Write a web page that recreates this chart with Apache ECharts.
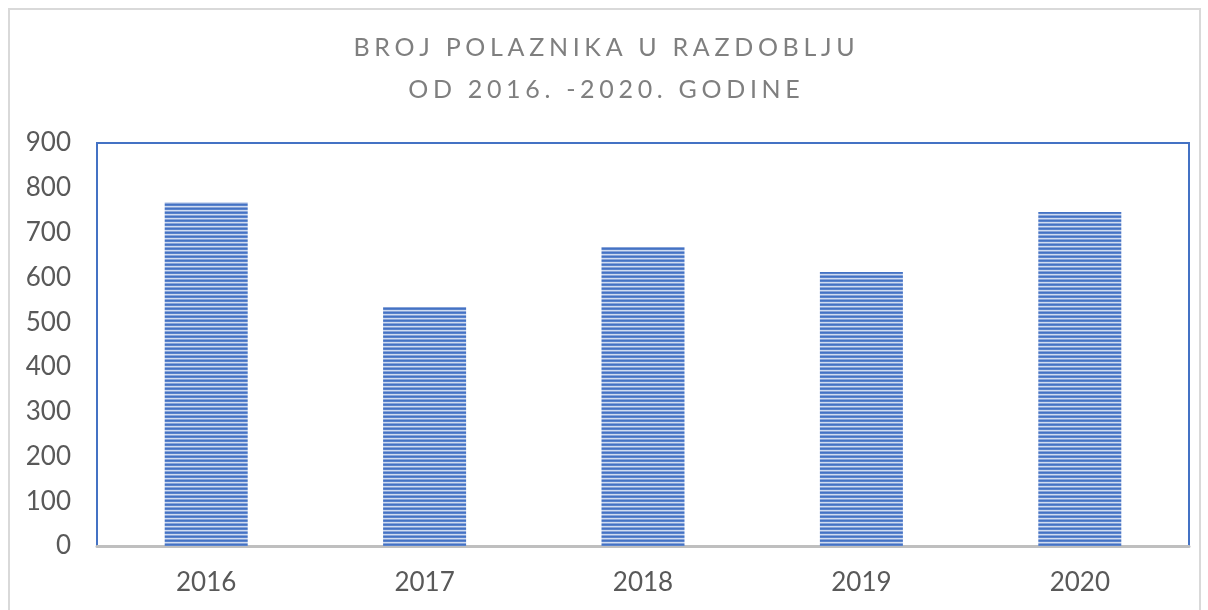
<!DOCTYPE html>
<html>
<head>
<meta charset="utf-8">
<script src="https://cdn.jsdelivr.net/npm/echarts@6/dist/echarts.min.js"></script>
<style>
  html, body { margin: 0; padding: 0; background: #fff; }
  #chart { width: 1208px; height: 610px; }
</style>
</head>
<body>
<div id="chart"></div>
<script>
var years = ['2016', '2017', '2018', '2019', '2020'];
var polaznici = [768, 534, 668, 612, 746];
var yTicks = { min: 0, max: 900, interval: 100 };
var titleLines = ['BROJ POLAZNIKA U RAZDOBLJU', 'OD 2016. -2020. GODINE'];

// razmaknuti naslov (kao u Excelu)
function spaced(s) {
    return s.split('').join('\u2009\u200A');
}

// horizontalne pruge za stupce
var stripe = document.createElement('canvas');
stripe.width = 4;
stripe.height = 4;
var ctx = stripe.getContext('2d');
var rows = ['#4472c4', '#5a83cc', '#d0dcf1', '#87a3d8'];
for (var i = 0; i < rows.length; i++) {
    ctx.fillStyle = rows[i];
    ctx.fillRect(0, i, 4, 1);
}

var dom = document.getElementById('chart');
var myChart = echarts.init(dom);

var option = {
    backgroundColor: '#fff',
    animation: false,
    title: {
        text: spaced(titleLines[0]) + '\n' + spaced(titleLines[1]),
        left: 'center',
        top: 22,
        textStyle: {
            fontFamily: 'Lato',
            fontSize: 25,
            fontWeight: 'normal',
            color: '#7f7f7f',
            lineHeight: 42
        }
    },
    graphic: [{
        type: 'rect',
        shape: { x: 9, y: 9, width: 1191, height: 700 },
        style: { fill: 'none', stroke: '#d9d9d9', lineWidth: 2 },
        silent: true
    }],
    grid: {
        left: 97,
        right: 19,
        top: 143,
        bottom: 64,
        show: true,
        borderColor: '#4472c4',
        borderWidth: 2,
        containLabel: false
    },
    xAxis: {
        type: 'category',
        data: years,
        axisLine: { show: true, lineStyle: { color: '#bfbfbf', width: 3 } },
        axisTick: { show: false },
        axisLabel: {
            margin: 24,
            fontFamily: 'Lato',
            fontSize: 26,
            color: '#595959'
        }
    },
    yAxis: {
        type: 'value',
        min: yTicks.min,
        max: yTicks.max,
        interval: yTicks.interval,
        axisLine: { show: false },
        axisTick: { show: false },
        splitLine: { show: false },
        axisLabel: {
            margin: 26,
            fontFamily: 'Lato',
            fontSize: 26,
            color: '#595959'
        }
    },
    series: [{
        type: 'bar',
        data: polaznici,
        barWidth: '38%',
        itemStyle: {
            color: { image: stripe, repeat: 'repeat' }
        }
    }]
};

myChart.setOption(option);
</script>
</body>
</html>
